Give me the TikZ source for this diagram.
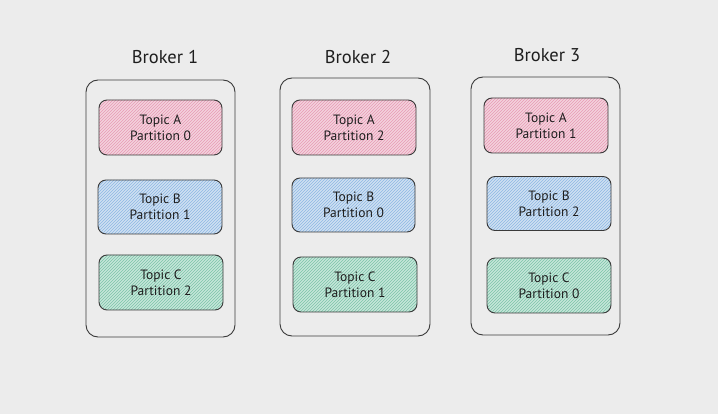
\documentclass[tikz,border=0pt]{standalone}
\usepackage{fontspec}
\setmainfont{PT Sans}
\usetikzlibrary{patterns}
\definecolor{bg}{HTML}{ECECEC}
\definecolor{edge}{HTML}{3A3A3A}
\definecolor{ink}{HTML}{1E1E1E}
\definecolor{pinkF}{HTML}{F3D2DD}
\definecolor{pinkL}{HTML}{E89AB4}
\definecolor{blueF}{HTML}{CFE0F2}
\definecolor{blueL}{HTML}{8DB7E3}
\definecolor{greenF}{HTML}{C6E6DA}
\definecolor{greenL}{HTML}{7CC3A8}
\tikzset{
  broker/.style={draw=edge, line width=0.9pt, rounded corners=12pt, fill=bg, inner sep=0pt},
  part/.style={draw=edge, line width=0.9pt, rounded corners=8pt, align=center,
    font=\fontsize{13.5}{16}\selectfont, text=ink, inner sep=0pt},
  pinkbox/.style={part, preaction={fill=pinkF}, pattern=north east lines, pattern color=pinkL},
  bluebox/.style={part, preaction={fill=blueF}, pattern=north east lines, pattern color=blueL},
  greenbox/.style={part, preaction={fill=greenF}, pattern=north east lines, pattern color=greenL},
  title/.style={font=\fontsize{18.5}{20}\selectfont, text=ink}
}
\begin{document}
\begin{tikzpicture}[x=1pt,y=-1pt]
\fill[bg] (0,0) rectangle (718,414);
\useasboundingbox (0,0) rectangle (718,414);
% Broker 1
\node[title] (t1) at (165,57) {Broker 1};
\node[broker, minimum width=149pt, minimum height=257pt] (b1) at (160.5,208.5) {};
\node[pinkbox, minimum width=123pt, minimum height=55pt] (a1) at (160.5,127.5) {Topic A\\Partition 0};
\node[bluebox, minimum width=124pt, minimum height=54pt] (bb1) at (160,207) {Topic B\\Partition 1};
\node[greenbox, minimum width=124pt, minimum height=55pt] (c1) at (161,282.5) {Topic C\\Partition 2};
% Broker 2
\node[title] (t2) at (358,57) {Broker 2};
\node[broker, minimum width=150pt, minimum height=258pt] (b2) at (355,207) {};
\node[pinkbox, minimum width=124pt, minimum height=55pt] (a2) at (354,127.5) {Topic A\\Partition 2};
\node[bluebox, minimum width=123pt, minimum height=54pt] (bb2) at (353.5,205) {Topic B\\Partition 0};
\node[greenbox, minimum width=124pt, minimum height=55pt] (c2) at (355,284.5) {Topic C\\Partition 1};
% Broker 3
\node[title] (t3) at (547,55) {Broker 3};
\node[broker, minimum width=149pt, minimum height=258pt] (b3) at (545.5,206) {};
\node[pinkbox, minimum width=124pt, minimum height=55pt] (a3) at (546,125.5) {Topic A\\Partition 1};
\node[bluebox, minimum width=124pt, minimum height=54pt] (bb3) at (549,203.5) {Topic B\\Partition 2};
\node[greenbox, minimum width=124pt, minimum height=55pt] (c3) at (549,285.5) {Topic C\\Partition 0};
\end{tikzpicture}
\end{document}
